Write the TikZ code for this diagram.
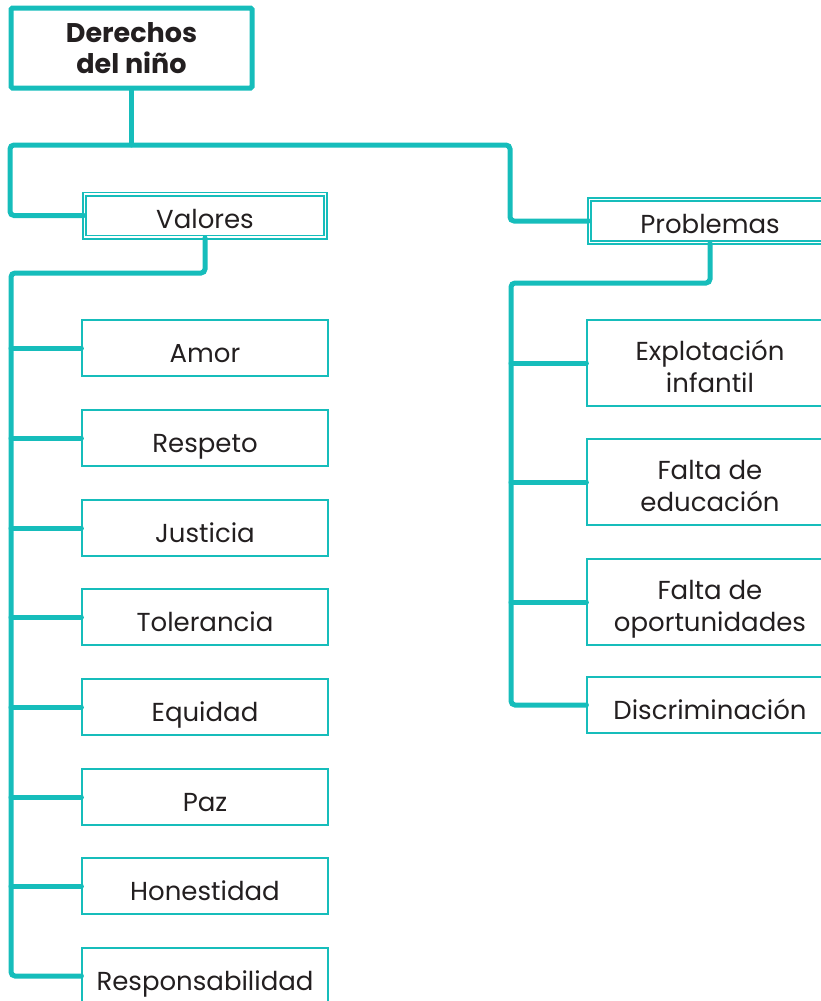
\documentclass[tikz,border=0pt]{standalone}
\usepackage{fontspec}
\setmainfont{Poppins}
\definecolor{turq}{RGB}{22,189,187}
\definecolor{ink}{RGB}{35,31,32}

\begin{document}
\begin{tikzpicture} [x=1pt, y=-1pt]
\tikzstyle{link}=[draw=turq, line width=5pt, rounded corners=4pt, line cap=round];
\tikzstyle{leaf}=[draw=turq, line width=1.2pt, minimum width=246pt, minimum height=56pt, text=ink, font=\fontsize{26}{32}\selectfont, align=center, inner sep=0pt, text height=28pt, text depth=0pt];
\tikzstyle{leaftwo}=[leaf, minimum height=86pt, text height=58pt];
\tikzstyle{head}=[draw=turq, line width=1.6pt, double=white, double distance=1.8pt, minimum width=241pt, minimum height=43pt, text=ink, font=\fontsize{26}{31}\selectfont, inner sep=0pt, text height=25pt, text depth=0pt];
\useasboundingbox (0,0) rectangle (821,1001);
\clip (0,0) rectangle (821,1001);
\node [draw=turq, line width=5pt, rounded corners=1.5pt, minimum width=241pt, minimum height=80pt, text=ink, font=\fontsize{27}{31}\selectfont\bfseries, align=center, inner sep=0pt] (root) at (131.5,48) {Derechos\\del niño};
\node [head] (val) at (205,215.5) {Valores};
\node [head] (prob) at (710,221) {Problemas};
% valores
\node [leaf] (amor) at (205,348) {Amor};
\node [leaf] (resp) at (205,438) {Respeto};
\node [leaf] (just) at (205,528) {Justicia};
\node [leaf] (tol) at (205,617) {Tolerancia};
\node [leaf] (equi) at (205,707) {Equidad};
\node [leaf] (paz) at (205,797) {Paz};
\node [leaf] (hon) at (205,886) {Honestidad};
\node [leaf] (respon) at (205,976) {Responsabilidad};
% problemas
\node [leaftwo] (expl) at (710,363) {Explotación\\infantil};
\node [leaftwo] (edu) at (710,482) {Falta de\\educación};
\node [leaftwo] (opo) at (710,602) {Falta de\\oportunidades};
\node [leaf] (disc) at (710,705) {Discriminación};
\coordinate (bl) at (10,145);
\coordinate (br) at (510,145);
\coordinate (vl) at (11,273);
\coordinate (pl) at (511,283);
\draw [link] (root.south) -- (root.south |- bl);
\draw [link] (val.west) -| (bl) -- (br) |- (prob.west);
\draw [link] (val.south) |- (vl) |- (respon.west);
\foreach \n in {amor,resp,just,tol,equi,paz,hon}
  \draw [link] (vl |- \n.west) -- (\n.west);
\draw [link] (prob.south) |- (pl) |- (disc.west);
\foreach \n in {expl,edu,opo}
  \draw [link] (pl |- \n.west) -- (\n.west);
\end{tikzpicture}
\end{document}
